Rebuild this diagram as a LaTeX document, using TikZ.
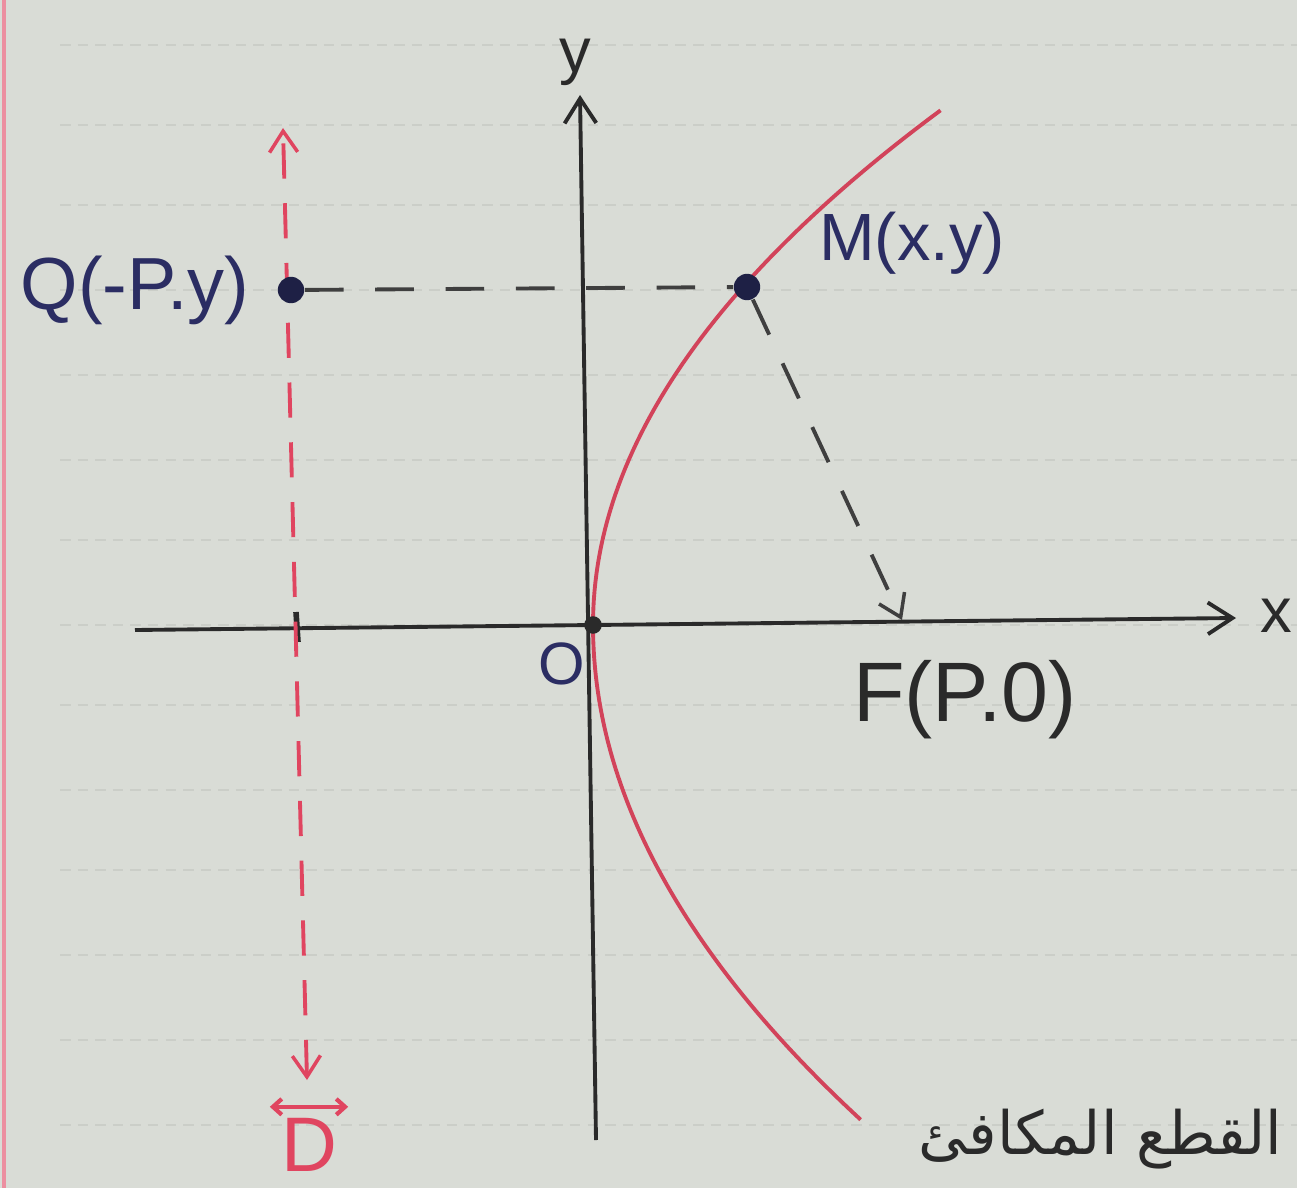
\documentclass[tikz,border=0pt]{standalone}
\usepackage{fontspec}
\setmainfont{Liberation Sans}
\newfontfamily\arabicfont[Script=Arabic]{DejaVu Sans}
\TeXXeTstate=1
\usetikzlibrary{arrows.meta}
\definecolor{paper}{HTML}{D9DCD6}
\definecolor{rule}{HTML}{CBCEC8}
\definecolor{ink}{HTML}{2B2D63}
\definecolor{axisc}{HTML}{2A2A2A}
\definecolor{curvec}{HTML}{D2435A}
\definecolor{dirc}{HTML}{E04560}
\begin{document}
\begin{tikzpicture}[x=0.01cm,y=-0.01cm,
  axisline/.style={draw=axisc,line width=1.1pt,-{Straight Barb[length=7pt,width=9pt,line width=1.1pt]}},
  curve/.style={draw=curvec,line width=1.1pt},
  dirline/.style={draw=dirc,line width=1.1pt,dash pattern=on 10pt off 7pt,{Straight Barb[length=6pt,width=8pt,line width=1pt]}-{Straight Barb[length=6pt,width=8pt,line width=1pt]}},
  guide/.style={draw=axisc!90,line width=1.1pt,dash pattern=on 11pt off 9pt},
  guidearrow/.style={guide,-{Straight Barb[length=6pt,width=8pt,line width=1pt]}},
  dot/.style={circle,fill=ink!70!black,inner sep=0pt,minimum size=7.5pt},
  odot/.style={circle,fill=axisc,inner sep=0pt,minimum size=5pt},
  lbl/.style={text=ink,font=\fontsize{21}{24}\selectfont,inner sep=1pt},
  axlbl/.style={text=axisc,font=\fontsize{18}{20}\selectfont,inner sep=1pt},
  dlbl/.style={text=dirc,font=\fontsize{22}{25}\selectfont,inner sep=0pt}
]
\useasboundingbox (0,0) rectangle (1297,1188);
\clip (0,0) rectangle (1297,1188);
\fill[paper] (0,0) rectangle (1297,1188);
% faint notebook rules
\foreach \yy in {45,125,205,290,375,460,540,625,705,790,870,955,1040,1125}
  \draw[rule,line width=0.6pt,dash pattern=on 3pt off 2pt] (60,\yy) -- (1297,\yy);
\draw[dirc!60,line width=1pt] (4,0) -- (4,1188);

% coordinates
\coordinate (xstart) at (135,630);
\coordinate (xend) at (1236,618);
\coordinate (ystart) at (596,1140);
\coordinate (yend) at (580,95);
\coordinate (Dtop) at (283,128);
\coordinate (Dbot) at (307,1080);
\coordinate (F) at (902,620);
\coordinate (tickA) at (296,612);
\coordinate (tickB) at (298,642);

% axes
\draw[axisline] (xstart) -- (xend);
\draw[axisline] (ystart) -- (yend);
\draw[axisc,line width=1.6pt] (tickA) -- (tickB);

% directrix
\draw[dirline] (Dbot) -- (Dtop);

% parabola
\draw[curve] plot[domain=0:1,samples=60] ({593+348*\x*\x},{625-515*\x});
\draw[curve] plot[domain=0:1,samples=60] ({593+268*\x*\x},{625+495*\x});

% points
\node[odot] (O) at (593,625) {};
\node[dot] (Q) at (291,290) {};
\node[dot] (M) at (747,287) {};

% connectors
\draw[guide] (Q) -- (M);
\draw[guidearrow] (M) -- (F);

% labels
\node[lbl] (Qlbl) at (135,290) {Q(-P.y)};
\node[lbl,font=\fontsize{19}{22}\selectfont] (Mlbl) at (912,243) {M(x.y)};
\node[lbl,text=axisc,font=\fontsize{24}{26}\selectfont] (Flbl) at (965,700) {F(P.0)};
\node[lbl,font=\fontsize{17}{20}\selectfont] (Olbl) at (562,664) {O};
\node[axlbl] (ylbl) at (575,62) {y};
\node[axlbl] (xlbl) at (1276,616) {x};
\node[dlbl,anchor=south] (Dlbl) at (309,1172) {D};
\draw[dirc,line width=1.2pt,{Straight Barb[length=2.5pt,width=4.5pt]}-{Straight Barb[length=2.5pt,width=4.5pt]}] ([xshift=-3pt,yshift=3pt]Dlbl.north west) -- ([xshift=3pt,yshift=3pt]Dlbl.north east);
\node[text=axisc,font=\arabicfont\fontsize{17}{20}\selectfont,anchor=south east] (title) at (1295,1182) {\beginR القطع المكافئ\endR};
\end{tikzpicture}
\end{document}
